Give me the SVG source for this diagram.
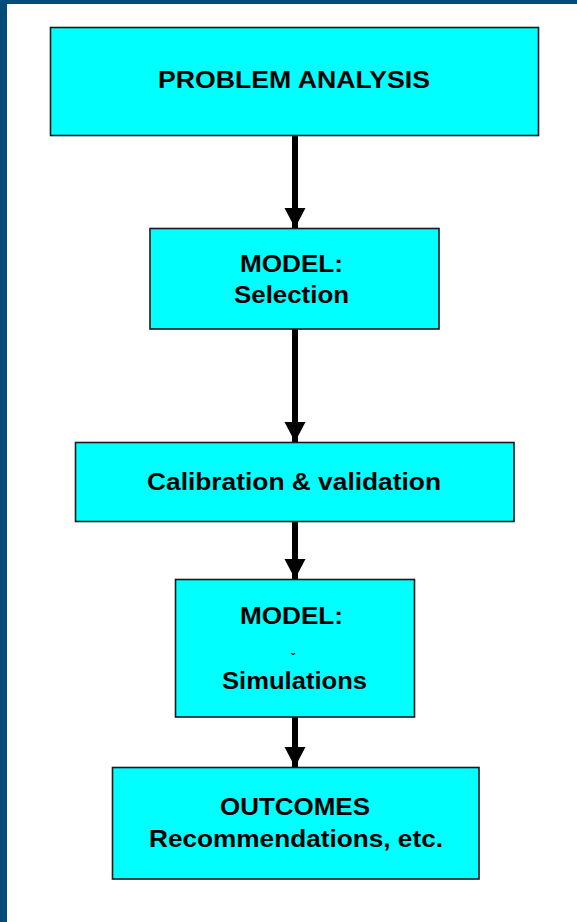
<svg xmlns="http://www.w3.org/2000/svg" width="577" height="922" viewBox="0 0 577 922">
<style>
.box{fill:#00FFFF;stroke:#1a1a1a;stroke-width:1.6}
.t{font-family:"Liberation Sans",Arial,sans-serif;font-weight:bold;font-size:23px;fill:#000;text-anchor:middle}
.conn{stroke:#000;stroke-width:6;fill:none}
</style>
<defs>
<marker id="ah" markerUnits="userSpaceOnUse" markerWidth="20" markerHeight="22" refX="20" refY="10.5" orient="auto">
<path d="M0,0 L20,10.5 L0,21 z" fill="#000"/>
</marker>
</defs>
<rect x="0" y="0" width="577" height="922" fill="#fff"/>
<rect x="0" y="0" width="577" height="4" fill="#004D7A"/>
<rect x="0" y="0" width="7" height="922" fill="#004D7A"/>
<g id="connectors">
<line class="conn" x1="295" y1="136" x2="295" y2="228" marker-end="url(#ah)"/>
<line class="conn" x1="295" y1="329" x2="295" y2="442" marker-end="url(#ah)"/>
<line class="conn" x1="295" y1="522" x2="295" y2="579" marker-end="url(#ah)"/>
<line class="conn" x1="295" y1="717" x2="295" y2="767" marker-end="url(#ah)"/>
</g>
<g id="problem-analysis">
<rect class="box" x="50.5" y="27.5" width="488" height="108"/>
<text class="t" x="294" y="88" textLength="272" lengthAdjust="spacingAndGlyphs">PROBLEM ANALYSIS</text>
</g>
<g id="model-selection">
<rect class="box" x="150" y="228.5" width="289" height="100.5"/>
<text class="t" x="291.5" y="272" textLength="103" lengthAdjust="spacingAndGlyphs">MODEL:</text>
<text class="t" x="291.5" y="303" textLength="115" lengthAdjust="spacingAndGlyphs">Selection</text>
</g>
<g id="calibration">
<rect class="box" x="75.5" y="442.5" width="438.5" height="79"/>
<text class="t" x="294" y="490" textLength="294" lengthAdjust="spacingAndGlyphs">Calibration &amp; validation</text>
</g>
<g id="model-simulations">
<rect class="box" x="175.5" y="579.5" width="239" height="137.5"/>
<text class="t" x="291.5" y="624" textLength="103" lengthAdjust="spacingAndGlyphs">MODEL:</text>
<text x="293" y="663" font-family="Liberation Sans, Arial, sans-serif" font-size="12" font-weight="bold" text-anchor="middle">ˇ</text>
<text class="t" x="294.5" y="689" textLength="145" lengthAdjust="spacingAndGlyphs">Simulations</text>
</g>
<g id="outcomes">
<rect class="box" x="112.5" y="767.5" width="366.5" height="111.5"/>
<text class="t" x="295" y="815" textLength="150" lengthAdjust="spacingAndGlyphs">OUTCOMES</text>
<text class="t" x="296" y="847" textLength="294" lengthAdjust="spacingAndGlyphs">Recommendations, etc.</text>
</g>
</svg>
